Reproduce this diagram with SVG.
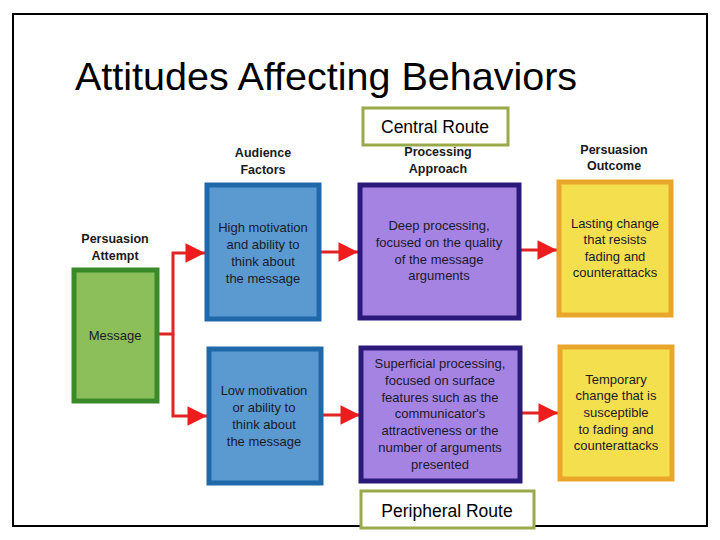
<svg xmlns="http://www.w3.org/2000/svg" width="720" height="540" viewBox="0 0 720 540">
<defs>
<style>
.t{font-family:"Liberation Sans",Arial,sans-serif;fill:#1a1a2a;text-anchor:middle;font-size:13px}
.h{font-family:"Liberation Sans",Arial,sans-serif;fill:#1a1a1a;text-anchor:middle;font-size:12.5px;font-weight:bold}
.r{font-family:"Liberation Sans",Arial,sans-serif;fill:#000;text-anchor:middle;font-size:17.5px}
.route{fill:#fff;stroke:#9aaa4a;stroke-width:3}
.green{fill:#8cbf5a;stroke:#3a8a2a;stroke-width:5}
.blue{fill:#5a9ad0;stroke:#1f68aa;stroke-width:5}
.purple{fill:#a583e2;stroke:#2b1a7a;stroke-width:5}
.yellow{fill:#f4e04e;stroke:#eaa62a;stroke-width:5}
.c{fill:none;stroke:#e02424;stroke-width:3}
</style>
<marker id="ah" viewBox="0 0 10 10" refX="10" refY="5" markerWidth="7" markerHeight="6.5" markerUnits="strokeWidth" orient="auto">
<path d="M0,0 L10,5 L0,10 z" fill="#ee1c1c"/>
</marker>
</defs>
<rect x="0" y="0" width="720" height="540" fill="#fff"/>
<rect x="13" y="14" width="694" height="512" fill="none" stroke="#000" stroke-width="2"/>
<text x="75" y="90" font-family="'Liberation Sans',Arial,sans-serif" font-size="39.5" fill="#000">Attitudes Affecting Behaviors</text>

<g id="labels">
<text class="h" x="263" y="157">Audience</text>
<text class="h" x="263" y="174">Factors</text>
<text class="h" x="115" y="243">Persuasion</text>
<text class="h" x="115" y="260">Attempt</text>
<text class="h" x="438" y="156">Processing</text>
<text class="h" x="438" y="173">Approach</text>
<text class="h" x="614" y="154">Persuasion</text>
<text class="h" x="614" y="170">Outcome</text>
</g>

<g id="connectors">
<polyline class="c" points="158,334 173,334 173,253 205,253" marker-end="url(#ah)"/>
<polyline class="c" points="173,334 173,416 207,416" marker-end="url(#ah)"/>
<line class="c" x1="320" y1="252" x2="358" y2="252" marker-end="url(#ah)"/>
<line class="c" x1="322" y1="415" x2="360" y2="415" marker-end="url(#ah)"/>
<line class="c" x1="520" y1="250" x2="557" y2="250" marker-end="url(#ah)"/>
<line class="c" x1="521" y1="413" x2="558" y2="413" marker-end="url(#ah)"/>
</g>

<g id="central-route">
<rect class="route" x="363" y="108" width="145" height="37"/>
<text class="r" x="435" y="133">Central Route</text>
</g>

<g id="peripheral-route">
<rect class="route" x="361" y="491" width="173" height="37"/>
<text class="r" x="447" y="517">Peripheral Route</text>
</g>

<g id="message">
<rect class="green" x="74" y="270" width="83" height="131"/>
<text class="t" x="115" y="340">Message</text>
</g>

<g id="high-motivation">
<rect class="blue" x="207" y="185" width="112" height="134"/>
<text class="t" x="263" y="232">High motivation</text>
<text class="t" x="263" y="249">and ability to</text>
<text class="t" x="263" y="266">think about</text>
<text class="t" x="263" y="283">the message</text>
</g>

<g id="low-motivation">
<rect class="blue" x="209" y="349" width="112" height="134"/>
<text class="t" x="264" y="395">Low motivation</text>
<text class="t" x="264" y="412">or ability to</text>
<text class="t" x="264" y="429">think about</text>
<text class="t" x="264" y="446">the message</text>
</g>

<g id="deep-processing">
<rect class="purple" x="360" y="185" width="159" height="133"/>
<text class="t" x="439" y="230">Deep processing,</text>
<text class="t" x="439" y="247">focused on the quality</text>
<text class="t" x="439" y="264">of the message</text>
<text class="t" x="439" y="280">arguments</text>
</g>

<g id="superficial-processing">
<rect class="purple" x="361" y="348" width="159" height="133"/>
<text class="t" x="440" y="368">Superficial processing,</text>
<text class="t" x="440" y="385">focused on surface</text>
<text class="t" x="440" y="402">features such as the</text>
<text class="t" x="440" y="418">communicator's</text>
<text class="t" x="440" y="435">attractiveness or the</text>
<text class="t" x="440" y="452">number of arguments</text>
<text class="t" x="440" y="469">presented</text>
</g>

<g id="lasting-change">
<rect class="yellow" x="559" y="182" width="112" height="133"/>
<text class="t" x="615" y="228">Lasting change</text>
<text class="t" x="615" y="244">that resists</text>
<text class="t" x="615" y="261">fading and</text>
<text class="t" x="615" y="277">counterattacks</text>
</g>

<g id="temporary-change">
<rect class="yellow" x="560" y="347" width="112" height="132"/>
<text class="t" x="616" y="384">Temporary</text>
<text class="t" x="616" y="400">change that is</text>
<text class="t" x="616" y="417">susceptible</text>
<text class="t" x="616" y="434">to fading and</text>
<text class="t" x="616" y="450">counterattacks</text>
</g>
</svg>
